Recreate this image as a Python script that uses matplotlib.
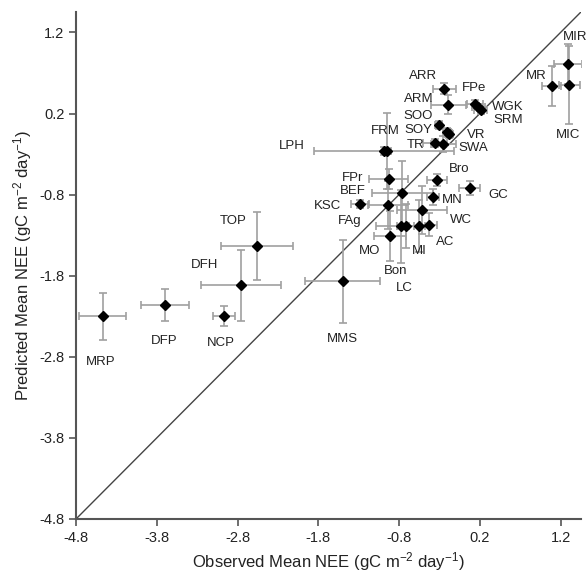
import numpy as np
import matplotlib.pyplot as plt

plt.rcParams['font.family'] = ['Liberation Sans', 'DejaVu Sans']
plt.rcParams['mathtext.fontset'] = 'custom'
plt.rcParams['mathtext.rm'] = 'Liberation Sans'
plt.rcParams['mathtext.it'] = 'Liberation Sans:italic'
plt.rcParams['mathtext.bf'] = 'Liberation Sans:bold'

sites = ["MRP", "DFP", "NCP", "DFH", "TOP", "MMS", "LPH", "FRM", "FPr", "BEF",
         "KSC", "FAg", "MO", "Bon", "LC", "MI", "AC", "WC", "MN", "Bro",
         "GC", "ARR", "ARM", "FPe", "WGK", "SRM", "SOO", "SOY", "VR", "TR",
         "SWA", "MIR", "MR", "MIC"]
observed = [-4.47, -3.70, -2.97, -2.76, -2.56, -1.50, -0.99, -0.95, -0.93, -0.76,
            -1.28, -0.94, -0.91, -0.78, -0.72, -0.555, -0.435, -0.52, -0.38, -0.33,
            0.075, -0.24, -0.19, 0.14, 0.18, 0.21, -0.31, -0.21, -0.18, -0.36,
            -0.25, 1.29, 1.09, 1.31]
predicted = [-2.30, -2.16, -2.30, -1.92, -1.43, -1.87, -0.26, -0.26, -0.61, -0.785,
             -0.92, -0.93, -1.31, -1.19, -1.19, -1.19, -1.17, -0.99, -0.83, -0.62,
             -0.72, 0.507, 0.31, 0.32, 0.28, 0.24, 0.06, -0.03, -0.055, -0.166,
             -0.18, 0.81, 0.537, 0.55]
obs_err = [0.29, 0.30, 0.14, 0.50, 0.45, 0.46, 0.87, 0.05, 0.24, 0.375,
           0.11, 0.25, 0.20, 0.30, 0.10, 0.12, 0.11, 0.31, 0.07, 0.12,
           0.13, 0.145, 0.22, 0.10, 0.08, 0.08, 0.04, 0.05, 0.05, 0.15,
           0.15, 0.17, 0.12, 0.13]
pred_err = [0.29, 0.20, 0.12, 0.44, 0.42, 0.51, 0.05, 0.47, 0.12, 0.40,
            0.05, 0.30, 0.31, 0.45, 0.27, 0.32, 0.145, 0.30, 0.10, 0.08,
            0.09, 0.07, 0.12, 0.05, 0.04, 0.04, 0.05, 0.05, 0.05, 0.05,
            0.10, 0.25, 0.25, 0.48]

# where each site name sits (data coords, text centre)
label_x = [-4.50, -3.71, -3.01, -3.21, -2.85, -1.50, -2.13, -0.97, -1.38, -1.37,
           -1.69, -1.41, -1.16, -0.84, -0.73, -0.55, -0.23, -0.03, -0.14, -0.06,
           0.43, -0.50, -0.56, 0.13, 0.55, 0.55, -0.56, -0.56, 0.16, -0.60,
           0.12, 1.38, 0.90, 1.29]
label_y = [-2.87, -2.61, -2.63, -1.67, -1.12, -2.58, -0.20, -0.02, -0.59, -0.75,
           -0.94, -1.12, -1.50, -1.74, -1.95, -1.50, -1.38, -1.11, -0.87, -0.49,
           -0.80, 0.66, 0.38, 0.51, 0.28, 0.12, 0.17, 0.00, -0.06, -0.19,
           -0.23, 1.14, 0.66, -0.07]

ticks = [-4.8, -3.8, -2.8, -1.8, -0.8, 0.2, 1.2]
lo, hi = -4.8, 1.45

fig = plt.figure(figsize=(5.86, 5.81), dpi=100)
ax = fig.add_axes([0.13, 0.107, 0.861, 0.872])

ax.plot([lo, hi], [lo, hi], color='#444444', lw=1)
ax.errorbar(observed, predicted, xerr=obs_err, yerr=pred_err, fmt='none',
            ecolor='#a0a0a0', elinewidth=1.2, capsize=3, capthick=1.2)
ax.plot(observed, predicted, 'D', color='black', ms=5)

for name, lx, ly in zip(sites, label_x, label_y):
    ax.text(lx, ly, name, ha='center', va='center', fontsize=9.5,
            color='#222222', clip_on=False)

ax.set_xlim(lo, hi)
ax.set_ylim(lo, hi)
ax.set_xticks(ticks)
ax.set_yticks(ticks)
ax.set_xticklabels([f"{t:.1f}" for t in ticks])
ax.set_yticklabels([f"{t:.1f}" for t in ticks])
ax.spines['top'].set_visible(False)
ax.spines['right'].set_visible(False)
for s in ['left', 'bottom']:
    ax.spines[s].set_color('#555555')
    ax.spines[s].set_linewidth(1.5)
ax.tick_params(colors='#555555', labelcolor='#222222', labelsize=10.5, width=1.2, length=5)
ax.set_xlabel("Observed Mean NEE (gC m$^{-2}$ day$^{-1}$)", fontsize=12, color='#222222')
ax.set_ylabel("Predicted Mean NEE (gC m$^{-2}$ day$^{-1}$)", fontsize=12, color='#222222')

fig.savefig("out.png", dpi=100)
